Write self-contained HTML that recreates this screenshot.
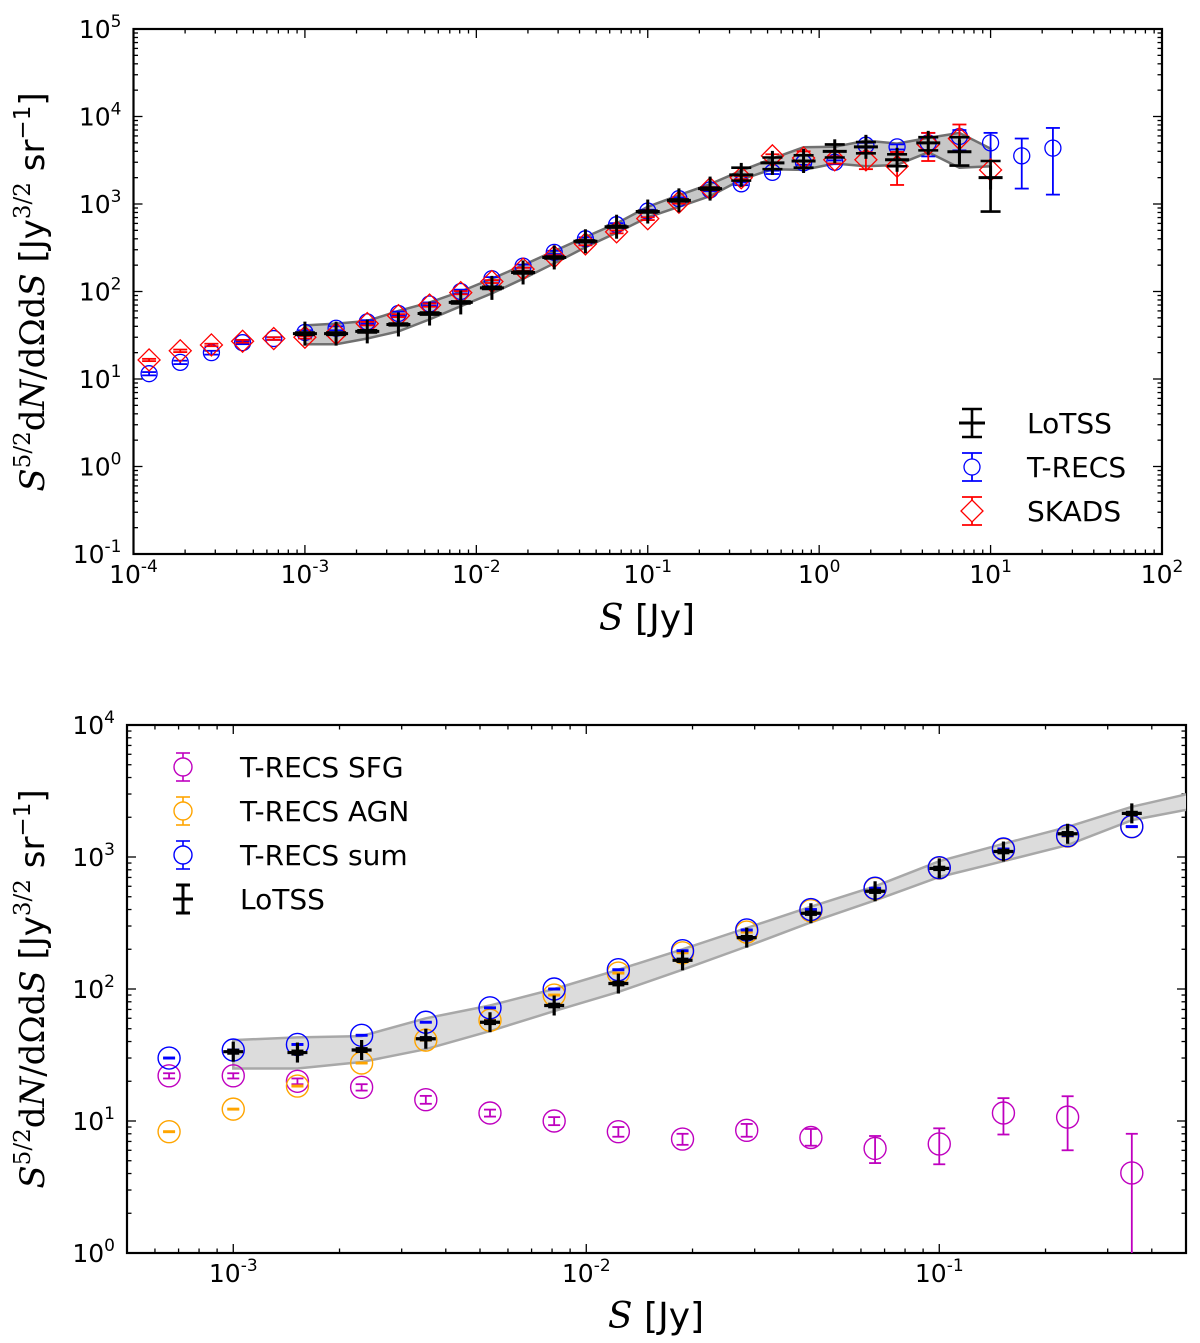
<!DOCTYPE html>
<html><head><meta charset="utf-8"><title>Source counts</title>
<style>
html,body{margin:0;padding:0;background:#fff;}
svg{display:block;font-family:"DejaVu Sans","Liberation Sans",sans-serif;}
</style></head>
<body>
<svg id="fig" width="1200" height="1343" viewBox="0 0 1200 1343" xmlns="http://www.w3.org/2000/svg"></svg>
<script>
// ---------- data ----------
// index k: S = 1e-3 * 10^(k*2/11)
const topTrecsK = [-5,-4,-3,-2,-1,0,1,2,3,4,5,6,7,8,9,10,11,12,13,14,15,16,17,18,19,20,21,22,23,24];
const topTrecs   = [11.5,15.5,20,26,29,34,38,45,56,72,100,140,195,280,400,580,830,1150,1450,1700,2300,2950,3000,4700,4500,5000,5900,5000,3550,4350];
const topTrecsLo = [11,14.8,19,25,28,32,36,43,53,69,95,134,187,268,384,556,800,1110,1400,1640,2200,2800,2850,4400,4200,3500,4100,3100,1500,1280];
const topTrecsHi = [12,16.2,21,27,30,36,40,47,59,75,105,146,203,292,416,604,860,1190,1500,1760,2400,3100,3150,5000,4800,6500,7000,6500,5600,7400];
const skadsK = [-5,-4,-3,-2,-1,0,1,2,3,4,5,6,7,8,9,10,11,12,13,14,15,16,17,18,19,20,21,22];
const skads   = [16.5,21,24.5,27,29,30,33,43,53,70,97,130,180,250,350,480,680,1050,1500,2000,3550,3350,3200,3200,2700,4800,5600,2450];
const skadsLo = [16,20.3,23.7,26,28,29,32,41,51,67,93,125,173,240,337,462,655,1010,1440,1920,3400,2600,2900,2500,1650,3100,4000,2000];
const skadsHi = [17,21.7,25.3,28,30,31,34,45,55,73,101,135,187,260,363,498,705,1090,1560,2080,3700,4000,3500,3900,3930,6500,8100,3100];
const lotssK = [0,1,2,3,4,5,6,7,8,9,10,11,12,13,14,15,16,17,18,19,20,21,22];
const lotss   = [33,33,35,42,56,75,110,165,245,375,550,820,1100,1500,2150,2950,3100,4000,4500,3200,5000,3950,2000];
const lotssLo = [32,32,34,41,54.5,73,107,161,239,366,537,800,1072,1462,1850,2500,2600,3400,3800,2700,4100,2750,820];
const lotssHi = [34,34,36,43,57.5,77,113,169,251,384,563,840,1128,1538,2600,3400,3600,4800,5100,3700,5800,5800,3100];
const bandK  = [0,1,2,3,4,5,6,7,8,9,10,11,12,13,14,15,16,17,18,19,20,21,22];
const bandHi = [41,43,46,60,75,100,140,200,290,420,600,930,1260,1690,2400,3300,4450,4500,5300,4900,5700,6500,4300];
const bandLo = [25,25,29,35,48,68,95,140,210,320,470,705,930,1230,1900,2500,2450,2900,2700,2800,3900,2600,2700];
// bottom panel
const botK = [-1,0,1,2,3,4,5,6,7,8,9,10,11,12,13,14];
const sfg   = [22,22,20,18,14.5,11.5,10,8.3,7.3,8.5,7.5,6.2,6.7,11.5,10.7,4.04];
const sfgLo = [21,21,19,17,13.5,10.8,9.3,7.6,6.6,7.6,6.5,4.8,4.7,7.9,6.0,0.5];
const sfgHi = [23,23,21,19,15.5,12.2,10.7,9.0,8.0,9.5,8.7,7.7,8.8,14.9,15.4,8.0];
const agn   = [8.3,12.3,18.4,27.5,41,58,90,132,188,270,392,575,825,1140,1440,1695];
const tsum  = [30,34.5,38,44.6,56,72,100,140,195,280,400,580,830,1150,1450,1700];
const botLotssK = [0,1,2,3,4,5,6,7,8,9,10,11,12,13,14];
const botLotss  = [33.5,33,34.5,42,56,75,110,165,245,375,550,820,1100,1500,2140];
const botLotssLo = [32.5,32,33.5,41,54.5,73,107,161,239,366,537,800,1072,1462,2090];
const botLotssHi = [34.5,34,35.5,43,57.5,77,113,169,251,384,563,840,1128,1538,2190];
const botBandK  = [0,1,2,3,4,5,6,7,8,9,10,11,12,13,14,15];
const botBandHi = [41,43,44,60,75,100,140,200,290,420,600,930,1260,1690,2400,3100];
const botBandLo = [25,25,28,35,48,68,95,140,210,320,470,705,930,1230,1900,2350];

// ---------- helpers ----------
const NS='http://www.w3.org/2000/svg';
const svg=document.getElementById('fig');
function mk(tag,attrs,parent){const e=document.createElementNS(NS,tag);for(const a in attrs)e.setAttribute(a,attrs[a]);(parent||svg).appendChild(e);return e;}
function sOf(k){return 1e-3*Math.pow(10,k*2/11);}
function makeAxes(L,R,T,B,lx0,lx1,ly0,ly1){
  return {L,R,T,B,
    x:v=>L+(Math.log10(v)-lx0)/(lx1-lx0)*(R-L),
    y:v=>B-(Math.log10(v)-ly0)/(ly1-ly0)*(B-T),
    lx0,lx1,ly0,ly1};
}
function pow10Label(g,x,y,exp,anchor){
  const t=mk('text',{x:x,y:y,'font-size':25,'text-anchor':anchor,fill:'#000'},g);
  const a=mk('tspan',{},t);a.textContent='10';
  const b=mk('tspan',{dy:-11,'font-size':17},t);b.textContent=String(exp);
  return t;
}
function drawFrame(ax,name,xLabelExps,yLabelExps){
  const g=mk('g',{});
  
  
  const clipId=name+'-clip';
  const cp=mk('clipPath',{id:clipId},svg);
  mk('rect',{x:ax.L,y:ax.T,width:ax.R-ax.L,height:ax.B-ax.T},cp);
  const tg=mk('g',{stroke:'#000','stroke-width':1.3},g);
  for(let d=Math.floor(ax.lx0);d<=Math.ceil(ax.lx1);d++){
    for(let m=1;m<10;m++){
      const v=m*Math.pow(10,d);const lv=Math.log10(v);
      if(lv<ax.lx0-1e-9||lv>ax.lx1+1e-9)continue;
      const px=ax.x(v);const len=m===1?9:4.5;
      mk('line',{x1:px,y1:ax.B,x2:px,y2:ax.B-len},tg);
      mk('line',{x1:px,y1:ax.T,x2:px,y2:ax.T+len},tg);
    }
  }
  for(let d=Math.floor(ax.ly0);d<=Math.ceil(ax.ly1);d++){
    for(let m=1;m<10;m++){
      const v=m*Math.pow(10,d);const lv=Math.log10(v);
      if(lv<ax.ly0-1e-9||lv>ax.ly1+1e-9)continue;
      const py=ax.y(v);const len=m===1?9:4.5;
      mk('line',{x1:ax.L,y1:py,x2:ax.L+len,y2:py},tg);
      mk('line',{x1:ax.R,y1:py,x2:ax.R-len,y2:py},tg);
    }
  }
  mk('rect',{x:ax.L,y:ax.T,width:ax.R-ax.L,height:ax.B-ax.T,fill:'none',stroke:'#000','stroke-width':2.2},g);
  const xl=mk('g',{},g);
  
  
  xLabelExps.forEach(e=>{pow10Label(xl,ax.x(Math.pow(10,e)),ax.B+29,e,'middle');});
  const yl=mk('g',{},g);
  
  
  yLabelExps.forEach(e=>{pow10Label(yl,ax.L-12,ax.y(Math.pow(10,e))+9,e,'end');});
  return clipId;
}
function yTitle(cx,cy,name){
  const t=mk('text',{transform:`translate(${cx},${cy}) rotate(-90)`,'text-anchor':'middle','font-size':34,fill:'#000'});
  
  
  const parts=[['S',{'font-family':'DejaVu Serif','font-style':'italic'}],['5/2',{'font-family':'DejaVu Serif','font-size':23,dy:-14}],
   ['d',{'font-family':'DejaVu Serif',dy:14}],['N',{'font-family':'DejaVu Serif','font-style':'italic'}],['/dΩd',{'font-family':'DejaVu Serif'}],
   ['S',{'font-family':'DejaVu Serif','font-style':'italic'}],[' [Jy',{}],['3/2',{'font-family':'DejaVu Serif','font-size':23,dy:-14}],
   [' sr',{dy:14}],['−1',{'font-size':23,dy:-14}],[']',{dy:14}]];
  parts.forEach(p=>{const s=mk('tspan',p[1],t);s.textContent=p[0];});
}
function xTitle(cx,y,name){
  const t=mk('text',{x:cx,y:y,'text-anchor':'middle','font-size':36,fill:'#000'});
  
  
  const a=mk('tspan',{'font-family':'DejaVu Serif','font-style':'italic'},t);a.textContent='S';
  const b=mk('tspan',{},t);b.textContent=' [Jy]';
}
function errbar(g,px,pyLo,pyHi,cap,col,w){
  mk('line',{x1:px,y1:pyLo,x2:px,y2:pyHi,stroke:col,'stroke-width':w},g);
  mk('line',{x1:px-cap,y1:pyLo,x2:px+cap,y2:pyLo,stroke:col,'stroke-width':w},g);
  mk('line',{x1:px-cap,y1:pyHi,x2:px+cap,y2:pyHi,stroke:col,'stroke-width':w},g);
}
function plus(g,px,py,s,w){
  mk('line',{x1:px-s,y1:py,x2:px+s,y2:py,stroke:'#000','stroke-width':w},g);
  mk('line',{x1:px,y1:py-s,x2:px,y2:py+s,stroke:'#000','stroke-width':w},g);
}
function bandPath(ax,ks,hi,lo){
  let d='';
  ks.forEach((k,i)=>{d+=(i?'L':'M')+ax.x(sOf(k)).toFixed(1)+','+ax.y(hi[i]).toFixed(1);});
  for(let i=ks.length-1;i>=0;i--){d+='L'+ax.x(sOf(ks[i])).toFixed(1)+','+ax.y(lo[i]).toFixed(1);}
  return d+'Z';
}

// ================= TOP PANEL =================
const A=makeAxes(133.5,1162,29,554,-4,2,-1,5);
const clipA=drawFrame(A,'top',[-4,-3,-2,-1,0,1,2],[-1,0,1,2,3,4,5]);
const topPlot=mk('g',{'clip-path':`url(#${clipA})`});


const bandA=mk('path',{d:bandPath(A,bandK,bandHi,bandLo),fill:'#bdbdbd','fill-opacity':0.85,stroke:'#707070','stroke-width':2.5},topPlot);


const gT=mk('g',{},topPlot);


topTrecsK.forEach((k,i)=>{
  const px=A.x(sOf(k));
  errbar(gT,px,A.y(topTrecsLo[i]),A.y(topTrecsHi[i]),7,'#0000ff',1.8);
  const c=mk('circle',{cx:px,cy:A.y(topTrecs[i]),r:8,fill:'none',stroke:'#0000ff','stroke-width':1.3},gT);
  
  
});
const gS=mk('g',{},topPlot);


skadsK.forEach((k,i)=>{
  const px=A.x(sOf(k));const py=A.y(skads[i]);
  errbar(gS,px,A.y(skadsLo[i]),A.y(skadsHi[i]),7,'#ff0000',1.8);
  const d=mk('path',{d:`M${px},${py-11}L${px+11},${py}L${px},${py+11}L${px-11},${py}Z`,fill:'none',stroke:'#ff0000','stroke-width':1.3},gS);
  
  
});
const gL=mk('g',{},topPlot);


lotssK.forEach((k,i)=>{
  const px=A.x(sOf(k));const py=A.y(lotss[i]);
  errbar(gL,px,A.y(lotssLo[i]),A.y(lotssHi[i]),10,'#000',2.6);
  const h=mk('g',{},gL);
  
  
  plus(h,px,py,12,3);
});
yTitle(44,292,'top-y-axis-title');
xTitle(647,630,'top-x-axis-title');
const lgA=mk('g',{});


[['LoTSS','#000',423],['T-RECS','#0000ff',467],['SKADS','#ff0000',511]].forEach((e,i)=>{
  const g=mk('g',{},lgA);
  
  
  const mx=972,my=e[2];
  errbar(g,mx,my-14,my+14,10,e[1],i===0?2.6:1.8);
  if(i===0)mk('line',{x1:mx-13,y1:my,x2:mx+13,y2:my,stroke:'#000','stroke-width':3},g);
  if(i===1)mk('circle',{cx:mx,cy:my,r:8,fill:'#fff',stroke:e[1],'stroke-width':1.3},g);
  if(i===2)mk('path',{d:`M${mx},${my-11}L${mx+11},${my}L${mx},${my+11}L${mx-11},${my}Z`,fill:'#fff',stroke:e[1],'stroke-width':1.3},g);
  const t=mk('text',{x:1027,y:my+10,'font-size':28,fill:'#000'},g);t.textContent=e[0];
});

// ================= BOTTOM PANEL =================
const Bx=makeAxes(127,1186,725,1253,Math.log10(5e-4),Math.log10(0.5),0,4);
const clipB=drawFrame(Bx,'bottom',[-3,-2,-1],[0,1,2,3,4]);
const botPlot=mk('g',{'clip-path':`url(#${clipB})`});


const bandB=mk('path',{d:bandPath(Bx,botBandK,botBandHi,botBandLo),fill:'#dcdcdc',stroke:'#a8a8a8','stroke-width':2.5},botPlot);


function circSeries(name,vals,lo,hi,col){
  const g=mk('g',{},botPlot);
  
  
  botK.forEach((k,i)=>{
    const px=Bx.x(sOf(k));const py=Bx.y(vals[i]);
    const l=lo?lo[i]:vals[i]*0.99, h=hi?hi[i]:vals[i]*1.01;
    errbar(g,px,Math.min(Bx.y(l),1400),Bx.y(h),6,col,1.8);
    const c=mk('circle',{cx:px,cy:py,r:11,fill:'none',stroke:col,'stroke-width':1.4},g);
    
    
  });
}
circSeries('trecs-sfg-series',sfg,sfgLo,sfgHi,'#bf00bf');
circSeries('trecs-agn-series',agn,null,null,'#ffa500');
circSeries('trecs-sum-series',tsum,null,null,'#0000ff');
const gL2=mk('g',{},botPlot);


botLotssK.forEach((k,i)=>{
  const px=Bx.x(sOf(k));const py=Bx.y(botLotss[i]);
  errbar(gL2,px,Bx.y(botLotssLo[i]),Bx.y(botLotssHi[i]),6,'#000',2.6);
  const h=mk('g',{},gL2);
  
  
  plus(h,px,py,10,3.2);
});
yTitle(44,989,'bottom-y-axis-title');
xTitle(656,1328,'bottom-x-axis-title');
const lgB=mk('g',{});


[['T-RECS SFG','#bf00bf',767],['T-RECS AGN','#ffa500',811],['T-RECS sum','#0000ff',855],['LoTSS','#000',899]].forEach((e,i)=>{
  const g=mk('g',{},lgB);
  
  
  const mx=183,my=e[2];
  errbar(g,mx,my-14,my+14,7,e[1],i===3?3:1.6);
  if(i<3)mk('circle',{cx:mx,cy:my,r:9,fill:'#fff',stroke:e[1],'stroke-width':1.4},g);
  else mk('line',{x1:mx-10,y1:my,x2:mx+10,y2:my,stroke:'#000','stroke-width':3},g);
  const t=mk('text',{x:240,y:my+10,'font-size':28,fill:'#000'},g);t.textContent=e[0];
});
</script>
</body></html>
